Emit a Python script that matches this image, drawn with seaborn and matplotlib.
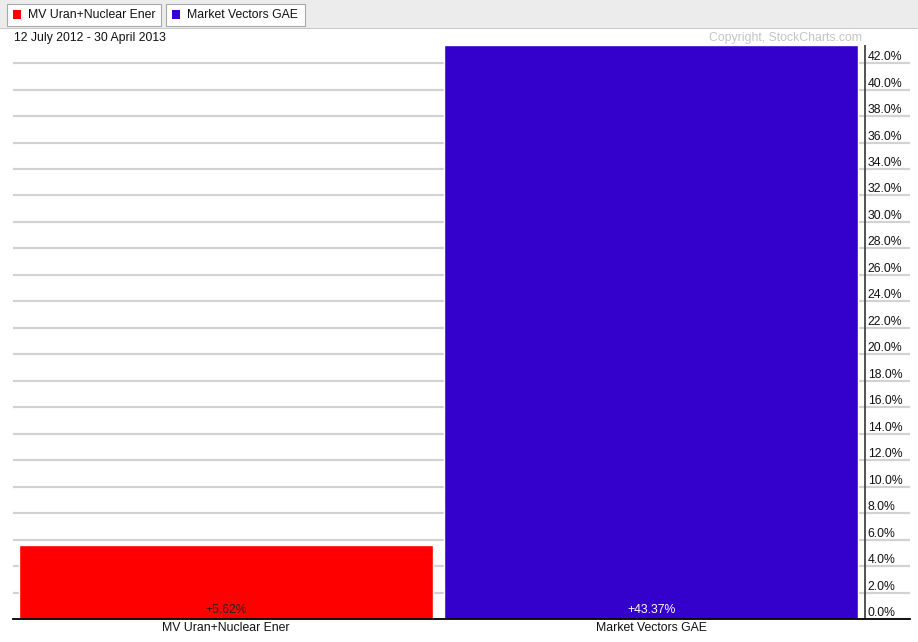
import numpy as np
import pandas as pd
import matplotlib
matplotlib.use("Agg")
import matplotlib.pyplot as plt
from matplotlib.patches import Rectangle
import seaborn as sns

# ---- data ----
categories = ["MV Uran+Nuclear Ener", "Market Vectors GAE"]
values = [5.62, 43.37]
value_labels = ["+5.62%", "+43.37%"]
bar_colors = ["#ff0000", "#3300cc"]
label_colors = ["#222222", "#ffffff"]
y_ticks = list(range(0, 43, 2))
y_tick_labels = [f"{v:.1f}%" for v in y_ticks]
date_range = "12 July 2012 - 30 April 2013"
copyright_text = "Copyright, StockCharts.com"

W, H = 918, 642
FS = 8.8
sns.set_theme(style="white")
plt.rcParams["font.family"] = ["Liberation Sans", "DejaVu Sans"]

fig = plt.figure(figsize=(W / 100, H / 100), dpi=100)
fig.patch.set_facecolor("white")

def fx(px):
    return px / W

def fy(py):
    return 1 - py / H

ax = fig.add_axes([fx(13), fy(619), fx(910) - fx(13), fy(45) - fy(619)])

df = pd.DataFrame({"name": categories, "value": values})
sns.barplot(data=df, x="name", y="value", hue="name", palette=bar_colors,
            width=0.973, saturation=1, legend=False, ax=ax, zorder=2)

ax.set_xlim(-0.5, 1.6075)
ax.set_ylim(0, 43.37)
ax.set_xlabel("")
ax.set_ylabel("")

# grid
ax.set_yticks(y_ticks)
ax.set_yticklabels(y_tick_labels)
ax.yaxis.grid(True, color="#d2d2d2", linewidth=1.6, zorder=0)
ax.xaxis.grid(False)
ax.set_axisbelow(True)
ax.yaxis.tick_right()
ax.tick_params(axis="y", length=0, pad=-30.5, labelsize=FS, labelcolor="#111111")
for lab in ax.get_yticklabels():
    lab.set_va("bottom")
    lab.set_ha("left")
ax.tick_params(axis="x", length=0, pad=2, labelsize=FS, labelcolor="#111111")

for s in ["top", "left", "right"]:
    ax.spines[s].set_visible(False)
ax.spines["bottom"].set_color("#000000")
ax.spines["bottom"].set_linewidth(1.3)
ax.spines["bottom"].set_zorder(5)

# vertical axis line
ax.axvline(1.502, color="#444444", linewidth=1.3, zorder=4)

# value labels
for i, (lbl, col) in enumerate(zip(value_labels, label_colors)):
    ax.text(i, 0.2, lbl, ha="center", va="bottom", fontsize=FS, color=col, zorder=6)

# top legend band
fig.add_artist(Rectangle((0, fy(28)), 1, 1 - fy(28), transform=fig.transFigure,
                         facecolor="#ececec", edgecolor="none", zorder=0))
fig.add_artist(Rectangle((0, fy(29)), 1, fy(28) - fy(29), transform=fig.transFigure,
                         facecolor="#c8c8c8", edgecolor="none", zorder=0))

buttons = [(7, 161), (166, 305)]
for (x0, x1), name, col in zip(buttons, categories, bar_colors):
    fig.add_artist(Rectangle((fx(x0), fy(26)), fx(x1) - fx(x0), fy(4) - fy(26),
                             transform=fig.transFigure, facecolor="white",
                             edgecolor="#a8a8a8", linewidth=0.8, zorder=1))
    fig.add_artist(Rectangle((fx(x0 + 6), fy(19)), fx(8), fy(10) - fy(19),
                             transform=fig.transFigure, facecolor=col,
                             edgecolor="none", zorder=2))
    fig.text(fx(x0 + 21), fy(15), name, ha="left", va="center", fontsize=FS,
             color="#111111", zorder=3)

fig.text(fx(14), fy(38), date_range, ha="left", va="center", fontsize=FS, color="#111111")
fig.text(fx(862), fy(37.5), copyright_text, ha="right", va="center", fontsize=FS,
         color="#c4c4c4")

fig.savefig("out.png", dpi=100, facecolor="white")
